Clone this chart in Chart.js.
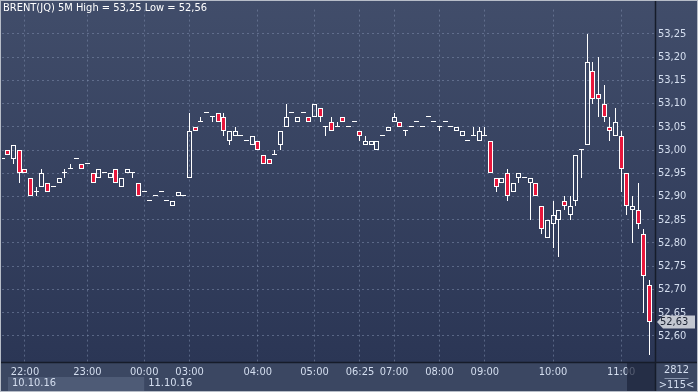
<!DOCTYPE html>
<html lang="en">
<head>
  <meta charset="UTF-8">
  <title>BRENT(JQ) 5M</title>
  <script src="https://cdn.jsdelivr.net/npm/chart.js"></script>
  <style>
    html, body { margin: 0; padding: 0; background: #2c3855; }
    canvas { display: block; }
  </style>
</head>
<body>
<canvas id="chart" width="698" height="392"></canvas>
<script>
  // 5 minute candles, oldest first (115 bars on screen)
  const open = [
    52.98, 53.00, 52.98, 53.00, 52.96, 52.94, 52.91, 52.92, 52.93, 52.92,
    52.93, 52.95, 52.96, 52.98, 52.97, 52.97, 52.95, 52.94, 52.95, 52.94,
    52.96, 52.92, 52.95, 52.95, 52.93, 52.91, 52.89, 52.90, 52.91, 52.89,
    52.88, 52.90, 52.90, 52.94, 53.05, 53.06, 53.08, 53.07, 53.08, 53.07,
    53.02, 53.03, 53.03, 53.02, 53.01, 53.02, 52.99, 52.98, 52.99, 53.01,
    53.05, 53.08, 53.06, 53.08, 53.07, 53.07, 53.09, 53.05, 53.06, 53.05,
    53.07, 53.05, 53.06, 53.04, 53.01, 53.01, 53.00, 53.03, 53.04, 53.06,
    53.06, 53.04, 53.05, 53.06, 53.05, 53.07, 53.06, 53.05, 53.06, 53.05,
    53.04, 53.03, 53.02, 53.03, 53.02, 53.03, 53.02, 52.94, 52.93, 52.95,
    52.91, 52.94, 52.94, 52.93, 52.93, 52.88, 52.81, 52.84, 52.85, 52.89,
    52.86, 52.89, 53.00, 53.01, 53.17, 53.12, 53.10, 53.05, 53.03, 53.03,
    52.95, 52.87, 52.87, 52.82, 52.71
  ];
  const high = [
    52.98, 53.00, 53.01, 53.00, 52.96, 52.94, 52.92, 52.96, 52.93, 52.92,
    52.94, 52.96, 52.97, 52.98, 52.97, 52.97, 52.95, 52.96, 52.95, 52.95,
    52.96, 52.94, 52.96, 52.95, 52.93, 52.91, 52.89, 52.90, 52.91, 52.89,
    52.89, 52.91, 52.90, 53.08, 53.05, 53.07, 53.08, 53.07, 53.08, 53.08,
    53.04, 53.05, 53.03, 53.02, 53.03, 53.02, 52.99, 52.98, 53.00, 53.04,
    53.10, 53.08, 53.07, 53.08, 53.07, 53.10, 53.09, 53.05, 53.07, 53.06,
    53.07, 53.05, 53.06, 53.04, 53.03, 53.02, 53.02, 53.03, 53.05, 53.08,
    53.06, 53.04, 53.05, 53.06, 53.05, 53.07, 53.06, 53.05, 53.06, 53.05,
    53.05, 53.04, 53.02, 53.05, 53.05, 53.05, 53.02, 52.94, 52.94, 52.96,
    52.93, 52.95, 52.94, 52.94, 52.93, 52.88, 52.85, 52.89, 52.87, 52.90,
    52.90, 52.99, 53.00, 53.25, 53.19, 53.20, 53.14, 53.07, 53.09, 53.04,
    52.95, 52.90, 52.93, 52.83, 52.72
  ];
  const low = [
    52.98, 52.99, 52.97, 52.93, 52.95, 52.90, 52.90, 52.92, 52.91, 52.92,
    52.93, 52.94, 52.96, 52.98, 52.96, 52.97, 52.93, 52.94, 52.95, 52.94,
    52.93, 52.92, 52.95, 52.94, 52.90, 52.91, 52.89, 52.90, 52.91, 52.89,
    52.88, 52.90, 52.90, 52.94, 53.04, 53.06, 53.08, 53.06, 53.06, 53.03,
    53.01, 53.03, 53.03, 53.02, 53.01, 53.00, 52.97, 52.97, 52.99, 53.00,
    53.05, 53.08, 53.06, 53.08, 53.06, 53.07, 53.06, 53.03, 53.04, 53.05,
    53.06, 53.05, 53.06, 53.02, 53.01, 53.01, 53.00, 53.03, 53.04, 53.06,
    53.05, 53.03, 53.05, 53.06, 53.05, 53.07, 53.06, 53.04, 53.06, 53.05,
    53.04, 53.03, 53.02, 53.03, 53.02, 53.03, 52.95, 52.91, 52.93, 52.89,
    52.91, 52.93, 52.94, 52.85, 52.90, 52.82, 52.81, 52.79, 52.77, 52.87,
    52.85, 52.88, 52.94, 53.01, 53.10, 53.07, 53.06, 53.02, 53.03, 52.91,
    52.86, 52.80, 52.83, 52.65, 52.56
  ];
  const close = [
    52.98, 52.99, 53.01, 52.95, 52.95, 52.90, 52.91, 52.95, 52.91, 52.92,
    52.94, 52.95, 52.96, 52.98, 52.96, 52.97, 52.93, 52.96, 52.95, 52.95,
    52.93, 52.94, 52.96, 52.95, 52.90, 52.91, 52.89, 52.90, 52.91, 52.89,
    52.89, 52.91, 52.90, 53.04, 53.04, 53.06, 53.08, 53.07, 53.06, 53.04,
    53.04, 53.04, 53.03, 53.02, 53.03, 53.00, 52.97, 52.97, 52.99, 53.04,
    53.07, 53.08, 53.07, 53.08, 53.06, 53.10, 53.07, 53.05, 53.04, 53.05,
    53.06, 53.05, 53.06, 53.03, 53.02, 53.02, 53.02, 53.03, 53.05, 53.07,
    53.05, 53.04, 53.05, 53.06, 53.05, 53.07, 53.06, 53.05, 53.06, 53.05,
    53.05, 53.04, 53.02, 53.03, 53.04, 53.03, 52.95, 52.92, 52.94, 52.90,
    52.93, 52.95, 52.94, 52.94, 52.90, 52.83, 52.85, 52.86, 52.87, 52.88,
    52.88, 52.99, 53.00, 53.19, 53.11, 53.11, 53.07, 53.04, 53.06, 52.96,
    52.88, 52.88, 52.84, 52.73, 52.63
  ];

  const yTicks = [52.60, 52.65, 52.70, 52.75, 52.80, 52.85, 52.90, 52.95, 53.00, 53.05, 53.10, 53.15, 53.20, 53.25];
  const xTickPos = [4, 15, 25, 33, 45, 55, 63, 69, 77, 85, 97, 109];
  const xTickText = ['22:00', '23:00', '00:00', '03:00', '04:00', '05:00', '06:25', '07:00', '08:00', '09:00', '10:00', '11:00'];
  const dateLabels = ['10.10.16', '11.10.16'];
  const dayBreak = 25;          // first bar of 11.10.16
  const barTotal = '2812';
  const barsShown = '>115<';

  const FONT = "'Liberation Sans Narrow', 'DejaVu Sans Condensed', 'Liberation Sans', Arial, sans-serif";
  const RED = '#e8173c';
  const TXT = '#d4deef';
  const GRID = 'rgba(125,140,172,0.55)';

  const fmt = v => v.toFixed(2).replace('.', ',');
  const title = 'BRENT(JQ) 5M High = ' + fmt(Math.max(...high)) + ' Low = ' + fmt(Math.min(...low));
  const idx = open.map((_, i) => i);

  // snap candles to whole pixels so the 1px outlines stay crisp
  const snap = {
    id: 'snap',
    afterDatasetsUpdate(chart) {
      chart.getSortedVisibleDatasetMetas().forEach(meta => {
        meta.data.forEach(el => {
          el.x = Math.floor(el.x) + 0.5;
          el.y = Math.round(el.y);
          el.base = Math.round(el.base);
        });
      });
    }
  };

  const chrome = {
    id: 'chrome',
    beforeDraw(chart) {
      const { ctx, width, height, chartArea: a } = chart;
      const g = ctx.createLinearGradient(0, 0, 0, a.bottom);
      g.addColorStop(0, '#414d6a');
      g.addColorStop(1, '#2b3655');
      ctx.save();
      ctx.fillStyle = g;
      ctx.fillRect(0, 0, width, height);
      ctx.fillStyle = '#3b4762';
      ctx.fillRect(0, a.bottom, width, height - a.bottom);
      // day box for the first date
      const xs = chart.scales.x;
      ctx.fillStyle = '#4e5b76';
      ctx.fillRect(8, a.bottom + 15, xs.getPixelForValue(dayBreak) - 8, height - a.bottom - 15);
      ctx.restore();
    },
    afterDraw(chart) {
      const { ctx, width, height, chartArea: a } = chart;
      const xs = chart.scales.x, ys = chart.scales.y;
      ctx.save();
      ctx.font = '11px ' + FONT;

      // date row
      ctx.fillStyle = TXT;
      ctx.textBaseline = 'middle';
      ctx.textAlign = 'left';
      ctx.fillText(dateLabels[0], 12, a.bottom + 21);
      ctx.fillText(dateLabels[1], xs.getPixelForValue(dayBreak) + 4, a.bottom + 21);

      // scroll marker at the bottom right
      ctx.fillStyle = 'rgba(28,36,58,0.7)';
      ctx.fillRect(627, a.bottom + 1, a.right - 627, height - a.bottom - 1);

      // frame lines
      ctx.strokeStyle = '#161c2a';
      ctx.lineWidth = 1.5;
      ctx.beginPath();
      ctx.moveTo(0, a.bottom + 0.5); ctx.lineTo(width, a.bottom + 0.5);
      ctx.moveTo(a.right + 0.5, 0); ctx.lineTo(a.right + 0.5, height);
      ctx.stroke();

      // title
      ctx.fillStyle = '#ffffff';
      ctx.textBaseline = 'alphabetic';
      ctx.fillText(title, 3, 11);

      // last price marker
      const last = close[close.length - 1];
      const y = ys.getPixelForValue(last);
      ctx.fillStyle = '#c3c8d1';
      ctx.beginPath();
      ctx.moveTo(a.right + 2, y);
      ctx.lineTo(a.right + 8, y - 6.5);
      ctx.lineTo(a.right + 40, y - 6.5);
      ctx.lineTo(a.right + 40, y + 6.5);
      ctx.lineTo(a.right + 8, y + 6.5);
      ctx.closePath();
      ctx.fill();
      ctx.fillStyle = '#1d2434';
      ctx.textBaseline = 'middle';
      ctx.fillText(fmt(last), a.right + 5, y + 0.5);

      // bar counters
      const cx = (a.right + width) / 2;
      ctx.fillStyle = TXT;
      ctx.textAlign = 'center';
      ctx.fillText(barTotal, cx, a.bottom + 8);
      ctx.fillText(barsShown, cx, a.bottom + 23);
      ctx.strokeStyle = '#8a96ae';
      ctx.lineWidth = 1;
      ctx.beginPath();
      ctx.moveTo(cx - 12, a.bottom + 16.5); ctx.lineTo(cx + 12, a.bottom + 16.5);
      ctx.stroke();

      // outer frame
      ctx.strokeStyle = '#b7bdc8';
      ctx.strokeRect(0.5, 0.5, width - 1, height - 1);
      ctx.restore();
    }
  };

  new Chart(document.getElementById('chart'), {
    type: 'bar',
    data: {
      datasets: [
        {
          label: 'upper wick',
          data: idx.map(i => ({ x: i, y: [Math.max(open[i], close[i]), high[i]] })),
          backgroundColor: '#ffffff',
          barThickness: 1,
          inflateAmount: 0,
          grouped: false,
          order: 2
        },
        {
          label: 'lower wick',
          data: idx.map(i => ({ x: i, y: [low[i], Math.min(open[i], close[i])] })),
          backgroundColor: '#ffffff',
          barThickness: 1,
          inflateAmount: 0,
          grouped: false,
          order: 2
        },
        {
          label: 'body',
          data: idx.map(i => ({ x: i, y: [open[i], close[i]] })),
          backgroundColor: c => close[c.dataIndex] < open[c.dataIndex] ? RED : 'rgba(0,0,0,0)',
          borderColor: '#ffffff',
          borderWidth: 1,
          borderSkipped: false,
          minBarLength: 1,
          barThickness: 5,
          inflateAmount: 0,
          grouped: false,
          order: 1
        }
      ]
    },
    options: {
      responsive: false,
      animation: false,
      events: [],
      layout: { padding: { left: 2, top: 1, right: 0, bottom: 0 } },
      plugins: { legend: { display: false }, tooltip: { enabled: false } },
      scales: {
        x: {
          type: 'linear',
          min: -0.04,
          max: 114.96,
          offset: false,
          grid: { offset: false, color: GRID, drawTicks: false },
          border: { display: false, dash: [2, 3] },
          ticks: {
            autoSkip: false,
            maxRotation: 0,
            color: TXT,
            padding: 4,
            font: { family: FONT, size: 11 },
            callback: v => {
              const k = xTickPos.indexOf(v);
              return k < 0 ? '' : xTickText[k];
            }
          },
          afterBuildTicks: s => { s.ticks = xTickPos.map(v => ({ value: v })); },
          afterFit: s => { s.height = 30; }
        },
        y: {
          position: 'right',
          min: 52.544,
          max: 53.302,
          grid: { color: GRID, drawTicks: false },
          border: { display: false, dash: [2, 3] },
          ticks: {
            color: TXT,
            padding: 3,
            font: { family: FONT, size: 11 },
            callback: v => fmt(v)
          },
          afterBuildTicks: s => { s.ticks = yTicks.map(v => ({ value: v })); },
          afterFit: s => { s.width = 43; }
        }
      }
    },
    plugins: [snap, chrome]
  });
</script>
</body>
</html>
